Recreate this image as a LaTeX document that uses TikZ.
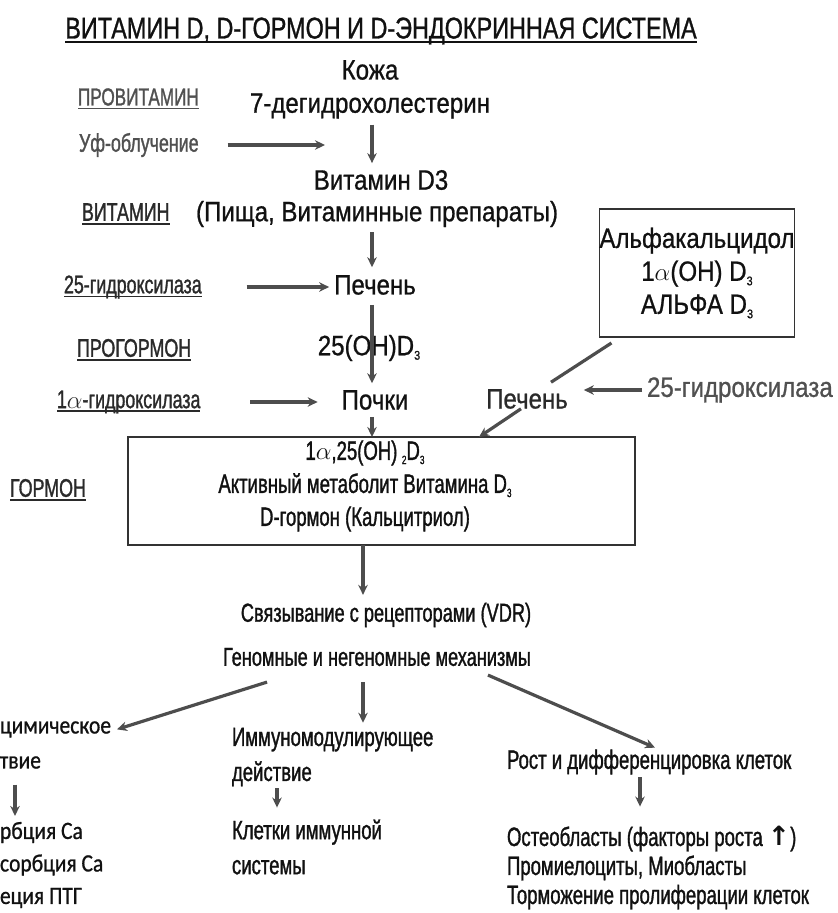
\documentclass[tikz,border=0pt]{standalone}
\usepackage{fontspec}
\setmainfont{Liberation Sans}
\newfontfamily\ftitle[FakeStretch=0.78,FakeBold=1]{Liberation Sans}
\newfontfamily\fmain[FakeStretch=0.86,FakeBold=0.8]{Liberation Sans}
\newfontfamily\fcond[FakeStretch=0.7,FakeBold=1.2]{Liberation Sans}
\newfontfamily\fhum[FakeStretch=0.86,FakeBold=0.8]{Carlito}
\newfontfamily\fsym{DejaVu Sans}
\usetikzlibrary{arrows.meta,calc}
\newcommand\lo[1]{\raisebox{-0.3ex}{\scalebox{0.45}{#1}}}
\definecolor{ink}{HTML}{111111}
\definecolor{gtext}{HTML}{505050}
\definecolor{dtext}{HTML}{2A2A2A}
\definecolor{arrowc}{HTML}{4D4D4D}
\definecolor{boxc}{HTML}{333333}
\newcommand\ulabel[4]{%
  \node[lab,text=#4] (#1) at #2 {#3};
  \draw[ul,draw=#4] ([yshift=-3pt]#1.base west) -- ([yshift=-3pt]#1.base east);}
\begin{document}
\begin{tikzpicture}[x=1pt,y=-1pt,
 every node/.style={inner sep=0pt,outer sep=0pt,text=ink},
 main/.style={font=\fmain\fontsize{28}{33}\selectfont},
 lab/.style={font=\fcond\fontsize{25.5}{28}\selectfont,anchor=west},
 mid/.style={font=\fcond\fontsize{26}{28}\selectfont},
 bot/.style={font=\fcond\fontsize{26.5}{35}\selectfont,anchor=west,align=left},
 hum/.style={font=\fhum\fontsize{25}{35}\selectfont,anchor=west,align=left},
 arr/.style={draw=arrowc,line width=3.2pt,-{Stealth[length=10pt,width=9.5pt]}},
 link/.style={draw=arrowc,line width=3.2pt},
 ul/.style={line width=1.5pt},
 frame/.style={draw=boxc,line width=1.7pt},
]
\useasboundingbox (0,0) rectangle (838,913);
\coordinate (colx) at (372,0);
\coordinate (colb) at (363,0);
\coordinate (ufend) at (325,0);
\coordinate (calcx) at (15,0);
\coordinate (immx) at (277,0);
\coordinate (growx) at (640,0);

% title
\node[font=\ftitle\fontsize{30}{32}\selectfont] (title) at (381,31) {ВИТАМИН D, D-ГОРМОН И D-ЭНДОКРИННАЯ СИСТЕМА};
\draw[ul,draw=ink,line width=2pt] ([yshift=-3.5pt]title.base west) -- ([yshift=-3.5pt]title.base east);

% main column
\node[main] (skin) at (370,70) {Кожа};
\node[main] (dehydro) at (370,106) {7-дегидрохолестерин};
\node[main] (vitd3) at (381,180) {Витамин D3};
\node[main] (food) at (377,214) {(Пища, Витаминные препараты)};
\node[main] (liver) at (375,285) {Печень};
\node[main] (oh25) at (369,348) {25(OH)D\lo{3}};
\node[main] (kidney) at (375,400) {Почки};

% left labels
\node[lab,text=gtext,font=\fcond\fontsize{24.5}{28}\selectfont] (provit) at (78,97) {ПРОВИТАМИН};
\draw[ul,draw=gtext] ([yshift=-3pt]provit.base west) -- ([yshift=-3pt]provit.base east);
\node[lab,text=gtext] (uv) at (79,145) {Уф-облучение};
\ulabel{vitlab}{(82,212)}{ВИТАМИН}{dtext}
\ulabel{hydlab}{(64,287)}{25-гидроксилаза}{dtext}
\ulabel{prohorm}{(77,348)}{ПРОГОРМОН}{dtext}
\ulabel{alphahyd}{(57,402)}{1$\alpha$-гидроксилаза}{dtext}
\ulabel{hormlab}{(10,488)}{ГОРМОН}{dtext}

% right branch
\node[frame,main,align=center,minimum width=192pt,minimum height=128pt] (alfa) at (697,273) {Альфакальцидол\\1$\alpha$(OH) D\lo{3}\\АЛЬФА D\lo{3}};
\node[main,text=dtext] (liverR) at (527,399) {Печень};
\node[main,text=gtext,anchor=west] (hydR) at (647,390) {25-гидроксилаза};

% hormone box
\node[frame,minimum width=507pt,minimum height=108pt] (box) at (381.5,491) {};
\node[font=\fcond\fontsize{26.5}{33}\selectfont,align=center] (boxtxt) at (365,486) {1$\alpha$,25(OH)\,\lo{2}D\lo{3}\\Активный метаболит Витамина D\lo{3}\\D-гормон (Кальцитриол)};

% lower part
\node[mid] (bind) at (386,615) {Связывание с рецепторами (VDR)};
\node[mid] (genom) at (377,657) {Геномные и негеномные механизмы};
\node[hum] (calc) at (0,745) {цимическое\\твие};
\node[hum,font=\fhum\fontsize{25}{32.5}\selectfont] (calcres) at (0,865) {рбция Ca\\сорбция Ca\\еция ПТГ};
\node[bot] (immuno) at (232,757) {Иммуномодулирующее\\действие};
\node[bot] (cells) at (232,847) {Клетки иммунной\\системы};
\node[bot] (growth) at (507,762) {Рост и дифференцировка клеток};
\node[bot,font=\fcond\fontsize{26.5}{29}\selectfont] (effects) at (507,868) {Остеобласты (факторы роста {\fsym\bfseries ↑})\\Промиелоциты, Миобласты\\Торможение пролиферации клеток};

% connectors
\draw[arr,shorten <=6pt,shorten >=7pt] (dehydro.south -| colx) -- (vitd3.north -| colx);
\draw[arr,shorten <=29pt] (uv.east) -- (uv.east -| ufend);
\draw[arr,shorten <=5pt,shorten >=8pt] (food.south -| colx) -- (liver.north -| colx);
\draw[arr,shorten <=45pt,shorten >=5pt] (hydlab.east) -- (hydlab.east -| liver.west);
\draw[arr,shorten <=10pt,shorten >=7pt] (liver.south -| colx) -- (kidney.north -| colx);
\draw[arr,shorten <=50pt,shorten >=24pt] (alphahyd.east) -- (alphahyd.east -| kidney.west);
\draw[arr,shorten <=7pt] (kidney.south -| colx) -- (box.north -| colx);
\draw[link] ([xshift=12pt,yshift=-6pt]alfa.south west) -- ([xshift=24pt,yshift=7pt]liverR.north);
\draw[arr,shorten <=5pt,shorten >=16pt] (hydR.west) -- (hydR.west -| liverR.east);
\draw[arr] ([xshift=-6pt]liverR.south) -- ($(box.north west)+(351,0)$);
\draw[arr,shorten >=8pt] (box.south -| colb) -- (bind.north -| colb);
\draw[arr] ([xshift=44pt,yshift=-16pt]genom.south west) -- ([xshift=6pt,yshift=-8pt]calc.north east);
\draw[arr,shorten <=16pt,shorten >=5pt] (genom.south -| colb) -- (immuno.north -| colb);
\draw[arr] ([xshift=-43pt,yshift=-9pt]genom.south east) -- ($(growth.north west)+(148,-2)$);
\draw[arr,shorten <=16pt,shorten >=6pt] (calc.south -| calcx) -- (calcres.north -| calcx);
\draw[arr,shorten <=2pt,shorten >=12pt] (immuno.south -| immx) -- (cells.north -| immx);
\draw[arr,shorten <=3pt,shorten >=20pt] (growth.south -| growx) -- (effects.north -| growx);
\end{tikzpicture}
\end{document}
